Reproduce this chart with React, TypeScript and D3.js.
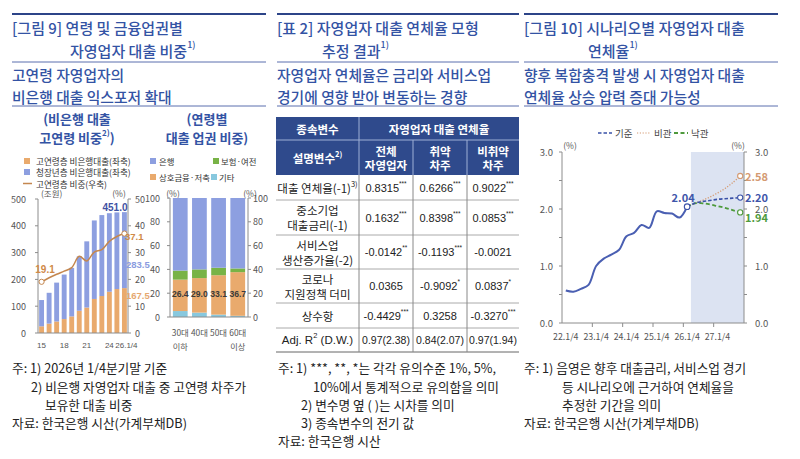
import React from 'react';
import * as d3 from 'd3';

const KR = "'Noto Sans CJK KR', 'Noto Sans', sans-serif";
const LAT = "'Liberation Sans', Arial, sans-serif";

const TITLE = '#3353a4';
const NAVY = '#2c4488';
const AXIS = '#8c8c8c';
const AX_TXT = '#555';
const BAR_BLUE = '#8d9fe0';
const BAR_ORANGE = '#e9aa6d';
const GREEN = '#78b346';
const SKY = '#88c8de';
const LINE_BROWN = '#c4874f';

// ---- 그림 9 (좌): 비은행 대출 고연령 비중 ----
const years = ['15', '16', '17', '18', '19', '20', '21', '22', '23', '24', '25', '26.1/4'];
const yearTicks = ['15', '18', '21', '24', '26.1/4'];
const elderLoans = [25, 35, 43, 52, 62, 83, 95, 127, 138, 154, 164, 167.5];
const youngLoans = [98, 115, 145, 166, 181, 203, 247, 293, 302, 293, 286, 283.5];
const elderShare = [19.1, 20.6, 21.9, 23.1, 24.4, 28.6, 26.9, 30.2, 31.1, 34.2, 36.0, 37.1];

// ---- 그림 9 (우): 연령별 대출 업권 비중 ----
const ageGroups = ['30대', '40대', '50대', '60대'];
const ageSub = ['이하', '', '', '이상'];
const otherShare = [5.0, 3.7, 2.0, 1.0];
const mutualShare = [26.4, 29.0, 33.1, 36.7];
const insurShare = [7.6, 7.3, 6.3, 3.1];
const bankShare = [61.0, 60.0, 58.6, 59.2];

// ---- 표 2 ----
const tableHeads = ['전체\n자영업자', '취약\n차주', '비취약\n차주'];
const rowLabels = ['대출 연체율(-1)', '중소기업\n대출금리(-1)', '서비스업\n생산증가율(-2)', '코로나\n지원정책 더미', '상수항', 'Adj. R'];
const coefs = [
  ['0.8315', '0.6266', '0.9022'],
  ['0.1632', '0.8398', '0.0853'],
  ['-0.0142', '-0.1193', '-0.0021'],
  ['0.0365', '-0.9092', '0.0837'],
  ['-0.4429', '0.3258', '-0.3270'],
  ['0.97(2.38)', '0.84(2.07)', '0.97(1.94)'],
];
const stars = [
  ['***', '***', '***'],
  ['***', '***', '***'],
  ['**', '***', ''],
  ['', '*', '*'],
  ['***', '', '***'],
  ['', '', ''],
];

// ---- 그림 10 ----
const quarters = ['22', '23', '24', '25', '26', '27'].flatMap((y) => ['1', '2', '3', '4'].map((q) => `${y}.${q}/4`));
const actualRate = [0.57, 0.55, 0.6, 0.67, 1.0, 1.13, 1.2, 1.28, 1.52, 1.58, 1.72, 1.67, 1.96, 1.93, 1.92, 1.85, 2.04];
const baseRate = [2.04, 2.1, 2.13, 2.15, 2.17, 2.18, 2.19, 2.2];
const pessRate = [2.04, 2.1, 2.15, 2.21, 2.28, 2.36, 2.46, 2.58];
const optRate = [2.04, 2.1, 2.1, 2.08, 2.05, 2.02, 1.98, 1.94];

const T = (p: any) => <text fontFamily={KR} dominantBaseline="central" {...p} />;

function Header({ x1, x2, t1, t2, t2x, s1, s2 }: any) {
  return (
    <g>
      <line x1={x1} x2={x2} y1={14} y2={14} stroke={NAVY} strokeWidth={2} />
      <T x={x1} y={27} fontSize={15} fill={TITLE} fontWeight={500}>{t1}</T>
      <T x={t2x} y={50} fontSize={15} fill={TITLE} fontWeight={500}>
        {t2}
        <tspan fontSize={9} dy={-6}>1)</tspan>
      </T>
      <line x1={x1} x2={x2} y1={62} y2={62} stroke="#5a6fae" strokeWidth={1} />
      <T x={x1} y={74} fontSize={14.8} fill={TITLE} fontWeight={500}>{s1}</T>
      <T x={x1} y={96} fontSize={14.8} fill={TITLE} fontWeight={500}>{s2}</T>
      <line x1={x1} x2={x2} y1={106} y2={106} stroke="#5a6fae" strokeWidth={1} />
    </g>
  );
}

function Notes({ lines }: { lines: [number, number, string][] }) {
  return (
    <g>
      {lines.map(([x, y, s], i) => (
        <T key={i} x={x} y={y} fontSize={12.7} fill="#222">{s}</T>
      ))}
    </g>
  );
}

function Fig9Left() {
  const x = d3.scaleBand<string>().domain(years).range([38, 128]).paddingInner(0.35).paddingOuter(0.15);
  const yL = d3.scaleLinear().domain([0, 500]).range([333, 199]);
  const yR = d3.scaleLinear().domain([0, 50]).range([333, 199]);
  const cx = (i: number) => (x(years[i]) as number) + x.bandwidth() / 2;
  const line = d3
    .line<number>()
    .x((_, i) => cx(i))
    .y((d) => yR(d))
    .curve(d3.curveCatmullRom.alpha(0.5));
  const last = years.length - 1;
  return (
    <g>
      {/* legend */}
      <rect x={24} y={158} width={6} height={6} fill={BAR_ORANGE} />
      <T x={36} y={161} fontSize={8.6} fill="#333">고연령층 비은행대출(좌축)</T>
      <rect x={24} y={169} width={6} height={6} fill={BAR_BLUE} />
      <T x={36} y={172} fontSize={8.6} fill="#333">청장년층 비은행대출(좌축)</T>
      <line x1={23} x2={32} y1={183.5} y2={183.5} stroke={LINE_BROWN} strokeWidth={1.5} />
      <T x={36} y={183.5} fontSize={8.6} fill="#333">고연령층 비중(우축)</T>

      <T x={41} y={193} fontSize={8.5} fill={AX_TXT}>(조원)</T>
      <T x={119} y={193} fontSize={8.5} fill={AX_TXT} textAnchor="middle">(%)</T>

      {years.map((yr, i) => (
        <g key={yr}>
          <rect x={x(yr)} width={x.bandwidth()} y={yL(elderLoans[i])} height={yL(0) - yL(elderLoans[i])} fill={BAR_ORANGE} />
          <rect
            x={x(yr)}
            width={x.bandwidth()}
            y={yL(elderLoans[i] + youngLoans[i])}
            height={yL(elderLoans[i]) - yL(elderLoans[i] + youngLoans[i])}
            fill={BAR_BLUE}
          />
        </g>
      ))}

      {/* axes */}
      <line x1={38} x2={38} y1={199} y2={333} stroke={AXIS} />
      <line x1={128} x2={128} y1={199} y2={333} stroke={AXIS} />
      <line x1={38} x2={128} y1={333} y2={333} stroke={AXIS} />
      {yL.ticks(5).map((t) => (
        <g key={t}>
          <line x1={35} x2={38} y1={yL(t)} y2={yL(t)} stroke={AXIS} />
          <T x={26} y={yL(t)} textAnchor="end" fontSize={9} fill={AX_TXT}>{t}</T>
        </g>
      ))}
      {yR.ticks(5).map((t) => (
        <g key={t}>
          <line x1={128} x2={131} y1={yR(t)} y2={yR(t)} stroke={AXIS} />
          <T x={135} y={yR(t)} fontSize={9} fill={AX_TXT}>{t}</T>
        </g>
      ))}
      {yearTicks.map((yr) => (
        <T
          key={yr}
          x={(x(yr) as number) + x.bandwidth() / 2 + (yr.length > 2 ? 2 : 0)}
          y={345}
          textAnchor="middle"
          fontSize={8}
          fontFamily={LAT}
          fill={AX_TXT}
        >
          {yr}
        </T>
      ))}

      <path d={line(elderShare) || ''} fill="none" stroke={LINE_BROWN} strokeWidth={1.5} />
      <circle cx={cx(0)} cy={yR(elderShare[0])} r={2.6} fill="#fff" stroke={LINE_BROWN} strokeWidth={1} />
      <circle cx={cx(last)} cy={yR(elderShare[last])} r={2.6} fill="#fff" stroke={LINE_BROWN} strokeWidth={1} />

      <T x={45} y={269} textAnchor="middle" fontSize={10} fontFamily={LAT} fontWeight={700} fill="#d08a48">{elderShare[0].toFixed(1)}</T>
      <T x={115} y={207} textAnchor="middle" fontSize={10} fontFamily={LAT} fontWeight={700} fill="#3f52a3">
        {(elderLoans[last] + youngLoans[last]).toFixed(1)}
      </T>
      <T x={125} y={236} fontSize={9.5} fontFamily={LAT} fontWeight={700} fill="#d08a48">{elderShare[last].toFixed(1)}</T>
      <T x={126} y={264} fontSize={9.5} fontFamily={LAT} fontWeight={700} fill="#8a9be0">{youngLoans[last].toFixed(1)}</T>
      <T x={126} y={295} fontSize={9.5} fontFamily={LAT} fontWeight={700} fill="#e6a870">{elderLoans[last].toFixed(1)}</T>
    </g>
  );
}

function Fig9Right() {
  const x = d3.scaleBand<string>().domain(ageGroups).range([170, 248]).paddingInner(0.23).paddingOuter(0.15);
  const y = d3.scaleLinear().domain([0, 100]).range([317, 198]);
  const rows = ageGroups.map((g, i) => ({
    group: g,
    other: otherShare[i],
    mutual: mutualShare[i],
    insur: insurShare[i],
    bank: bankShare[i],
  }));
  const keys = ['other', 'mutual', 'insur', 'bank'];
  const colors: Record<string, string> = { other: SKY, mutual: BAR_ORANGE, insur: GREEN, bank: BAR_BLUE };
  const series = d3.stack<any>().keys(keys)(rows);
  return (
    <g>
      {/* legend */}
      <rect x={150} y={158} width={6} height={6} fill={BAR_BLUE} />
      <T x={159} y={161} fontSize={8.4} fill="#333">은행</T>
      <rect x={213} y={158} width={6} height={6} fill={GREEN} />
      <T x={221} y={161} fontSize={8.4} fill="#333">보험·여전</T>
      <rect x={150} y={174} width={6} height={6} fill={BAR_ORANGE} />
      <T x={159} y={177} fontSize={8.4} fill="#333">상호금융·저축</T>
      <rect x={211} y={174} width={6} height={6} fill={SKY} />
      <T x={219} y={177} fontSize={8.4} fill="#333">기타</T>

      <T x={173} y={193} fontSize={8.5} fill={AX_TXT} textAnchor="middle">(%)</T>
      <T x={250} y={193} fontSize={8.5} fill={AX_TXT} textAnchor="middle">(%)</T>

      {series.map((s) => (
        <g key={s.key} fill={colors[s.key]}>
          {s.map((d, i) => (
            <rect key={i} x={x(ageGroups[i])} width={x.bandwidth()} y={y(d[1])} height={y(d[0]) - y(d[1])} />
          ))}
        </g>
      ))}

      <line x1={170} x2={170} y1={198} y2={317} stroke={AXIS} />
      <line x1={248} x2={248} y1={198} y2={317} stroke={AXIS} />
      <line x1={170} x2={248} y1={317} y2={317} stroke={AXIS} />
      {y.ticks(5).map((t) => (
        <g key={t}>
          <line x1={167} x2={170} y1={y(t)} y2={y(t)} stroke={AXIS} />
          <T x={160} y={y(t)} textAnchor="end" fontSize={9} fill={AX_TXT}>{t}</T>
          <line x1={248} x2={251} y1={y(t)} y2={y(t)} stroke={AXIS} />
          <T x={253} y={y(t)} fontSize={9} fill={AX_TXT}>{t}</T>
        </g>
      ))}
      {ageGroups.map((g, i) => (
        <g key={g}>
          <T
            x={(x(g) as number) + x.bandwidth() / 2}
            y={294}
            textAnchor="middle"
            fontSize={8.6}
            fontFamily={LAT}
            fontWeight={700}
            fill="#3a3a3a"
          >
            {mutualShare[i].toFixed(1)}
          </T>
          <T x={(x(g) as number) + x.bandwidth() / 2} y={332} textAnchor="middle" fontSize={8.4} fill={AX_TXT}>{g}</T>
          {ageSub[i] && (
            <T x={(x(g) as number) + x.bandwidth() / 2} y={346} textAnchor="middle" fontSize={8.2} fill={AX_TXT}>{ageSub[i]}</T>
          )}
        </g>
      ))}
    </g>
  );
}

function MultiLine({ x, y, text, gap = 14, ...rest }: any) {
  const parts = String(text).split('\n');
  const y0 = y - ((parts.length - 1) * gap) / 2;
  return (
    <>
      {parts.map((p, i) => (
        <T key={i} x={x} y={y0 + i * gap} textAnchor="middle" {...rest}>{p}</T>
      ))}
    </>
  );
}

function Table() {
  const cols = [276, 359, 413, 467, 519];
  const rowsY = [117, 140, 175, 200, 235, 269, 303, 328, 352];
  const mid = (a: number, b: number) => (a + b) / 2;
  return (
    <g>
      <rect x={cols[0]} y={rowsY[0]} width={cols[4] - cols[0]} height={rowsY[2] - rowsY[0]} fill="#2f4a8c" />
      <line x1={cols[0]} x2={cols[4]} y1={rowsY[1]} y2={rowsY[1]} stroke="#9fb0d6" strokeWidth={1} />
      <line x1={cols[1]} x2={cols[1]} y1={rowsY[0]} y2={rowsY[2]} stroke="#9fb0d6" strokeWidth={1} />
      <line x1={cols[2]} x2={cols[2]} y1={rowsY[1]} y2={rowsY[2]} stroke="#9fb0d6" strokeWidth={1} />
      <line x1={cols[3]} x2={cols[3]} y1={rowsY[1]} y2={rowsY[2]} stroke="#9fb0d6" strokeWidth={1} />
      <T x={mid(cols[0], cols[1])} y={mid(rowsY[0], rowsY[1])} textAnchor="middle" fontSize={11.5} fontWeight={700} fill="#fff">종속변수</T>
      <T x={mid(cols[1], cols[4])} y={mid(rowsY[0], rowsY[1])} textAnchor="middle" fontSize={11.5} fontWeight={700} fill="#fff">자영업자 대출 연체율</T>
      <T x={mid(cols[0], cols[1])} y={mid(rowsY[1], rowsY[2])} textAnchor="middle" fontSize={11.5} fontWeight={700} fill="#fff">
        설명변수<tspan fontSize={7.5} dy={-5}>2)</tspan>
      </T>
      {tableHeads.map((h, i) => (
        <MultiLine key={h} x={mid(cols[i + 1], cols[i + 2])} y={mid(rowsY[1], rowsY[2])} text={h} gap={14} fontSize={11.5} fontWeight={700} fill="#fff" />
      ))}

      {rowsY.slice(3).map((yy, i) => (
        <line key={i} x1={cols[0]} x2={cols[4]} y1={yy} y2={yy} stroke={i === rowsY.length - 4 ? '#666' : '#aaa'} strokeWidth={1} />
      ))}
      {cols.slice(1, 4).map((cx) => (
        <line key={cx} x1={cx} x2={cx} y1={rowsY[2]} y2={rowsY[8]} stroke="#888" strokeWidth={1} />
      ))}

      {rowLabels.map((lab, r) => {
        const cy = mid(rowsY[r + 2], rowsY[r + 3]);
        const cxl = mid(cols[0], cols[1]);
        if (r === 0)
          return (
            <T key={r} x={cxl} y={cy} textAnchor="middle" fontSize={11.5} fill="#222">
              {lab}<tspan fontSize={7.5} dy={-5}>3)</tspan>
            </T>
          );
        if (r === rowLabels.length - 1)
          return (
            <T key={r} x={cxl} y={cy} textAnchor="middle" fontSize={11.5} fill="#222" fontFamily={LAT}>
              {lab}<tspan fontSize={7.5} dy={-5}>2</tspan><tspan dy={5}>  (D.W.)</tspan>
            </T>
          );
        return <MultiLine key={r} x={cxl} y={cy} text={lab} gap={15} fontSize={11.5} fill="#222" />;
      })}

      {coefs.map((row, r) =>
        row.map((v, c) => (
          <T
            key={`${r}-${c}`}
            x={mid(cols[c + 1], cols[c + 2])}
            y={mid(rowsY[r + 2], rowsY[r + 3])}
            textAnchor="middle"
            fontSize={r === coefs.length - 1 ? 10.5 : 11}
            fontFamily={LAT}
            fill="#222"
          >
            {v}
            {stars[r][c] && (
              <tspan fontSize={6.5} dy={-5}>{stars[r][c]}</tspan>
            )}
          </T>
        ))
      )}
    </g>
  );
}

function Fig10() {
  const x = d3.scaleBand<string>().domain(quarters).range([562, 744]).padding(0);
  const y = d3.scaleLinear().domain([0, 3]).range([323, 152]);
  const cx = (q: string) => (x(q) as number) + x.bandwidth() / 2;
  const actualQ = quarters.slice(0, actualRate.length);
  const fcQ = quarters.slice(actualRate.length - 1);
  const curve = d3.curveCatmullRom.alpha(0.5);
  const lineA = d3.line<number>().x((_, i) => cx(actualQ[i])).y((d) => y(d)).curve(curve);
  const lineF = d3.line<number>().x((_, i) => cx(fcQ[i])).y((d) => y(d)).curve(curve);
  const halfTicks = d3.range(0, 3.01, 0.5);
  const labelQ = quarters.filter((_, i) => i % 4 === 0);
  const boundQ = quarters.filter((_, i) => i % 4 === 0 && i > 0);
  const lastQ = quarters[quarters.length - 1];
  const nowQ = actualQ[actualQ.length - 1];
  const shadeX = x(quarters[actualRate.length]) as number;
  return (
    <g>
      {/* legend */}
      <line x1={598} x2={612} y1={133} y2={133} stroke="#3a52a8" strokeWidth={1.6} strokeDasharray="3.5,2" />
      <T x={615} y={133} fontSize={9.5} fill="#444">기준</T>
      <line x1={637} x2={651} y1={133} y2={133} stroke="#d49a72" strokeWidth={1.2} strokeDasharray="1.2,1.6" />
      <T x={654} y={133} fontSize={9.5} fill="#444">비관</T>
      <line x1={674} x2={688} y1={133} y2={133} stroke="#4e9a3c" strokeWidth={1.8} strokeDasharray="4,2.5" />
      <T x={691} y={133} fontSize={9.5} fill="#444">낙관</T>

      <rect x={shadeX} y={152} width={744 - shadeX} height={323 - 152} fill="#dce3f2" />

      <T x={570} y={145} fontSize={8.5} fill={AX_TXT} textAnchor="middle">(%)</T>
      <T x={738} y={145} fontSize={8.5} fill={AX_TXT} textAnchor="middle">(%)</T>

      <line x1={562} x2={562} y1={152} y2={323} stroke={AXIS} />
      <line x1={744} x2={744} y1={152} y2={323} stroke={AXIS} />
      <line x1={562} x2={744} y1={323} y2={323} stroke={AXIS} />
      {halfTicks.map((t) => (
        <g key={t}>
          <line x1={559} x2={562} y1={y(t)} y2={y(t)} stroke={AXIS} />
          <line x1={744} x2={747} y1={y(t)} y2={y(t)} stroke={AXIS} />
          {Number.isInteger(t) && (
            <>
              <T x={553} y={y(t)} textAnchor="end" fontSize={9.5} fill={AX_TXT}>{t.toFixed(1)}</T>
              <T x={755} y={y(t)} fontSize={9.5} fill={AX_TXT}>{t.toFixed(1)}</T>
            </>
          )}
        </g>
      ))}
      {boundQ.map((q) => (
        <line key={q} x1={x(q)} x2={x(q)} y1={323} y2={327} stroke={AXIS} />
      ))}
      {labelQ.map((q) => (
        <T key={q} x={cx(q)} y={336} textAnchor="middle" fontSize={8.8} fill={AX_TXT}>{q}</T>
      ))}

      <path d={lineA(actualRate) || ''} fill="none" stroke="#4a5fb2" strokeWidth={2} />
      <path d={lineF(pessRate) || ''} fill="none" stroke="#d49a72" strokeWidth={1.3} strokeDasharray="1.2,1.6" />
      <path d={lineF(optRate) || ''} fill="none" stroke="#4e9a3c" strokeWidth={1.8} strokeDasharray="4,2.5" />
      <path d={lineF(baseRate) || ''} fill="none" stroke="#3a52a8" strokeWidth={1.6} strokeDasharray="3.5,2" />

      <circle cx={cx(nowQ)} cy={y(actualRate[actualRate.length - 1])} r={2.8} fill="#fff" stroke="#3a52a8" strokeWidth={1.1} />
      <circle cx={cx(lastQ)} cy={y(pessRate[pessRate.length - 1])} r={2.6} fill="#fff" stroke="#d49a72" strokeWidth={1.1} />
      <circle cx={cx(lastQ)} cy={y(baseRate[baseRate.length - 1])} r={2.6} fill="#fff" stroke="#3a52a8" strokeWidth={1.1} />
      <circle cx={cx(lastQ)} cy={y(optRate[optRate.length - 1])} r={2.6} fill="#fff" stroke="#4e9a3c" strokeWidth={1.1} />

      <T x={cx(nowQ) - 4} y={y(actualRate[actualRate.length - 1]) - 10} textAnchor="middle" fontSize={11} fontWeight={700} fill="#3f56aa">
        {actualRate[actualRate.length - 1].toFixed(2)}
      </T>
      <T x={745} y={y(pessRate[pessRate.length - 1])} fontSize={11} fontWeight={700} fill="#d49a72">{pessRate[pessRate.length - 1].toFixed(2)}</T>
      <T x={745} y={y(baseRate[baseRate.length - 1]) - 1} fontSize={11} fontWeight={700} fill="#3f56aa">{baseRate[baseRate.length - 1].toFixed(2)}</T>
      <T x={745} y={y(optRate[optRate.length - 1]) + 5} fontSize={11} fontWeight={700} fill="#4e9a3c">{optRate[optRate.length - 1].toFixed(2)}</T>
    </g>
  );
}

export default function App() {
  return (
    <svg width={800} height={459} style={{ position: 'absolute', left: 0, top: 0, background: '#fff' }}>
      <rect width={800} height={459} fill="#fff" />
      <Header x1={12} x2={266} t1="[그림 9] 연령 및 금융업권별" t2="자영업자 대출 비중" t2x={70} s1="고연령 자영업자의" s2="비은행 대출 익스포저 확대" />
      <Header x1={277} x2={519} t1="[표 2] 자영업자 대출 연체율 모형" t2="추정 결과" t2x={322} s1="자영업자 연체율은 금리와 서비스업" s2="경기에 영향 받아 변동하는 경향" />
      <Header x1={524} x2={778} t1="[그림 10] 시나리오별 자영업자 대출" t2="연체율" t2x={588} s1="향후 복합충격 발생 시 자영업자 대출" s2="연체율 상승 압력 증대 가능성" />

      <T x={77} y={118} textAnchor="middle" fontSize={13} fontWeight={700} fill={TITLE}>(비은행 대출</T>
      <T x={77} y={137} textAnchor="middle" fontSize={13} fontWeight={700} fill={TITLE}>
        고연령 비중<tspan fontSize={8} dy={-5}>2)</tspan><tspan dy={5}>)</tspan>
      </T>
      <T x={207} y={118} textAnchor="middle" fontSize={13} fontWeight={700} fill={TITLE}>(연령별</T>
      <T x={207} y={137} textAnchor="middle" fontSize={13} fontWeight={700} fill={TITLE}>대출 업권 비중)</T>

      <Fig9Left />
      <Fig9Right />
      <Table />
      <Fig10 />

      <Notes
        lines={[
          [12, 367, '주: 1) 2026년 1/4분기말 기준'],
          [31, 386, '2) 비은행 자영업자 대출 중 고연령 차주가'],
          [45, 404, '보유한 대출 비중'],
          [12, 422, '자료: 한국은행 시산(가계부채DB)'],
          [278, 367, '주: 1) ***, **, *는 각각 유의수준 1%, 5%,'],
          [313, 386, '10%에서 통계적으로 유의함을 의미'],
          [301, 404, '2) 변수명 옆 ( )는 시차를 의미'],
          [301, 422, '3) 종속변수의 전기 값'],
          [278, 440, '자료: 한국은행 시산'],
          [524, 367, '주: 1) 음영은 향후 대출금리, 서비스업 경기'],
          [562, 386, '등 시나리오에 근거하여 연체율을'],
          [562, 404, '추정한 기간을 의미'],
          [524, 422, '자료: 한국은행 시산(가계부채DB)'],
        ]}
      />
    </svg>
  );
}
